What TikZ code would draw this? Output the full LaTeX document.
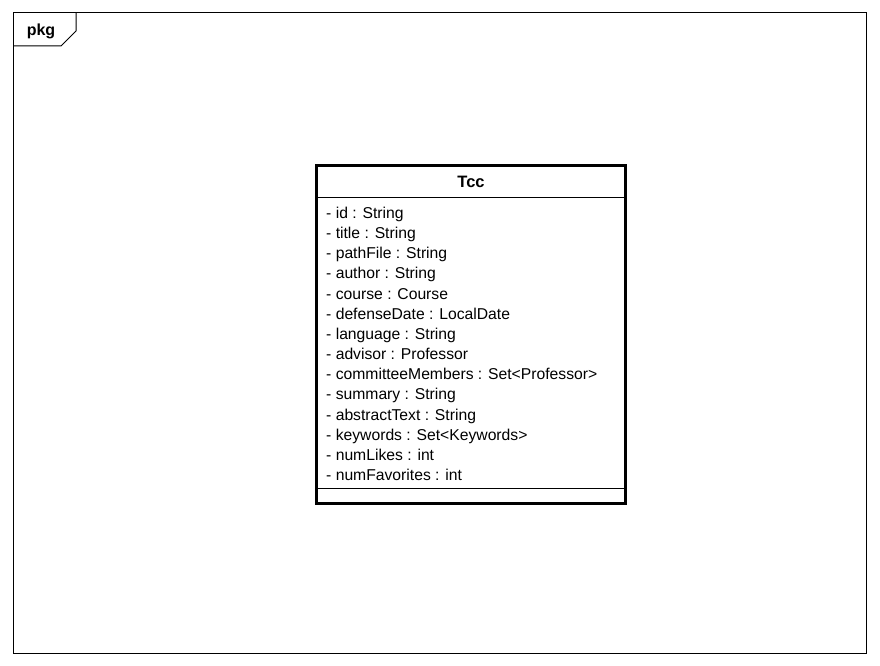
\documentclass[tikz,border=0pt]{standalone}
\usepackage{fontspec}
\setmainfont{Liberation Sans}
\begin{document}
\begin{tikzpicture}[x=1pt,y=-1pt,
  frame/.style={draw=black,line width=1pt},
  classbox/.style={draw=black,line width=2.2pt},
  sep/.style={draw=black,line width=0.9pt},
  attr/.style={anchor=base west,inner sep=0pt,font=\fontsize{15.7}{18}\selectfont},
  ttl/.style={anchor=center,inner sep=0pt,font=\fontsize{16.5}{18}\selectfont\bfseries}]
\useasboundingbox (0,0) rectangle (880,666);
\fill[white] (0,0) rectangle (880,666);
% package frame
\draw[frame] (13,13) rectangle (866,653);
\draw[frame] (13,46) -- (61,46) -- (76,31) -- (76,13);
\node[anchor=center,inner sep=0pt,font=\fontsize{16}{18}\selectfont\bfseries] (pkg) at (41,31) {pkg};
% class
\coordinate (tl) at (316.5,165.5);
\coordinate (br) at (625.5,503.5);
\draw[sep] (316.5,197) -- (625.5,197);
\draw[sep] (316.5,488) -- (625.5,488);
\draw[classbox] (tl) rectangle (br);
\node[ttl] (title) at (471,182) {Tcc};
\foreach \t [count=\i from 0] in {{- id : String},{- title : String},{- pathFile : String},{- author : String},{- course : Course},{- defenseDate : LocalDate},{- language : String},{- advisor : Professor},{- committeeMembers : Set<Professor>},{- summary : String},{- abstractText : String},{- keywords : Set<Keywords>},{- numLikes : int},{- numFavorites : int}}
  \node[attr] (a\i) at (326,{218.5+20.15*\i}) {\t};
\end{tikzpicture}
\end{document}
